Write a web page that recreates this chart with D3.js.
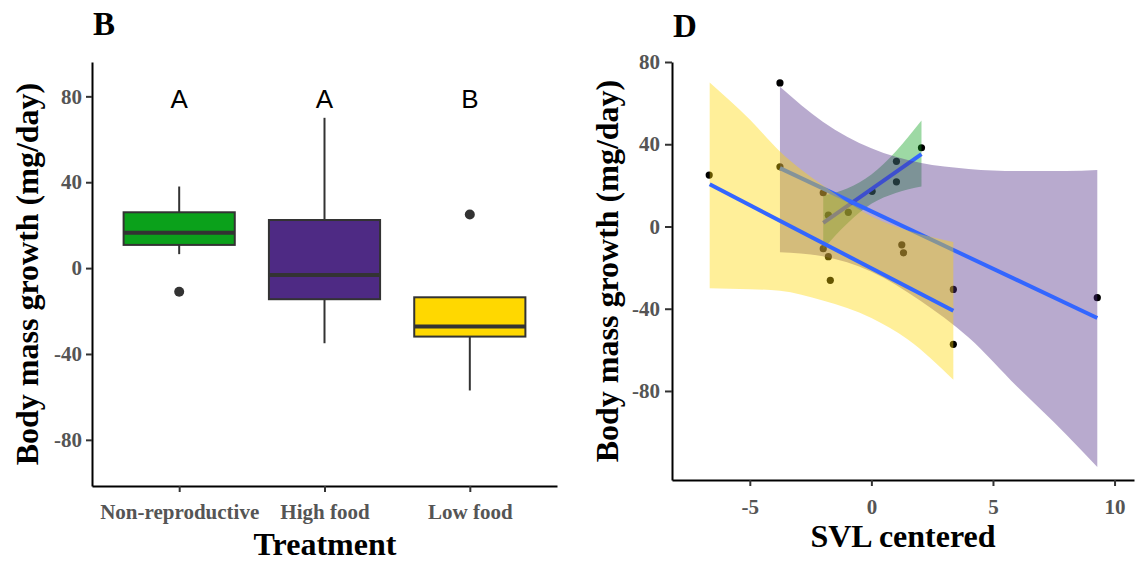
<!DOCTYPE html>
<html lang="en">
  <head>
    <meta charset="UTF-8" />
    <title>Body mass growth</title>
    <script src="https://d3js.org/d3.v7.min.js"></script>
    <style>
      body {
        margin: 0;
        background: #fff;
      }
      svg {
        display: block;
      }
      .tick text {
        font-family: "Liberation Serif", "Times New Roman", serif;
        font-weight: bold;
        fill: #555;
      }
      .tick line {
        stroke: #333;
        stroke-width: 2;
      }
      .domain {
        stroke: #000;
        stroke-width: 2;
      }
      .axis-title {
        font-family: "Liberation Serif", "Times New Roman", serif;
        font-weight: bold;
        fill: #000;
      }
    </style>
  </head>
  <body>
    <svg width="1139" height="567"></svg>
    <script>
      // ---- panel B : boxplots ----
      const treatments = ["Non-reproductive", "High food", "Low food"];
      const whiskerLow = [6.5, -35, -57];
      const boxQ1 = [10.8, -14.5, -31.9];
      const boxMedian = [16.5, -3.2, -27.2];
      const boxQ3 = [26, 22.4, -13.6];
      const whiskerHigh = [38, 70, -13.6];
      const outlierGroup = ["Non-reproductive", "Low food"];
      const outlierValue = [-11, 25];
      const letters = ["A", "A", "B"];
      const letterValue = 79;
      const growthTicks = [-80, -40, 0, 40, 80];

      // ---- panel D : growth vs SVL ----
      const svlX = [-6.67, -3.76, -3.76, -1.98, -1.77, -0.95, -1.98, -1.77, -1.69,
        0.03, 1.03, 1.03, 2.06, 1.25, 1.32, 3.37, 3.37, 9.29];
      const svlY = [25, 69.8, 29, 16.4, 5.5, 6.9, -10.8, -14.7, -26.2,
        17.1, 31.7, 21.7, 38.3, -8.9, -12.8, -30.6, -57.3, -34.6];
      const svlTicks = [-5, 0, 5, 10];

      // fitted bands (drawn in this order)
      const fitGroups = ["Non-reproductive", "High food", "Low food"];
      const bandX = [
        [-1.98, -1, 0, 1, 2.06],
        [-3.76, -2, 0, 2, 4, 6, 8, 9.29],
        [-6.65, -5, -3.76, -2, 0, 1.5, 3.37],
      ];
      const bandUpper = [
        [15, 18.5, 25.3, 36.5, 51.5],
        [68, 51, 38, 31, 28, 27, 27, 27.5],
        [70, 52, 36.5, 20, 5, -2, -7.5],
      ];
      const bandLower = [
        [-11, 1.3, 11, 16.3, 19.5],
        [-12.5, -14.5, -22, -36, -54, -78, -101, -117],
        [-30, -30.5, -31.2, -36, -44.5, -55, -74.5],
      ];
      const fitLineX = [[-1.98, 2.06], [-3.76, 9.29], [-6.65, 3.37]];
      const fitLineY = [[1.8, 35.2], [28.4, -44.5], [20.5, -41]];

      const color = d3.scaleOrdinal()
        .domain(treatments)
        .range(["#0ba11b", "#4e2a84", "#ffd800"]);

      const svg = d3.select("svg");
      const plain = (d) => String(d); // hyphen minus like the original

      // ================= panel B =================
      const xB = d3.scalePoint().domain(treatments).range([92, 557]).padding(0.6);
      const yB = d3.scaleLinear().domain([-101.5, 96]).range([486, 62]);
      const boxW = xB.step() * 0.765;

      const gB = svg.append("g");

      gB.append("g")
        .attr("transform", "translate(92,0)")
        .call(d3.axisLeft(yB).tickValues(growthTicks).tickFormat(plain)
          .tickSize(6).tickPadding(4).tickSizeOuter(0))
        .call((g) => g.selectAll(".tick text").attr("font-size", 21));

      gB.append("g")
        .attr("transform", "translate(0,486)")
        .call(d3.axisBottom(xB).tickSize(6).tickPadding(12).tickSizeOuter(0))
        .call((g) => g.selectAll(".tick text").attr("font-size", 21));

      treatments.forEach((t, i) => {
        const cx = xB(t);
        gB.append("line")
          .attr("x1", cx).attr("x2", cx)
          .attr("y1", yB(whiskerLow[i])).attr("y2", yB(boxQ1[i]))
          .attr("stroke", "#333").attr("stroke-width", 2);
        gB.append("line")
          .attr("x1", cx).attr("x2", cx)
          .attr("y1", yB(boxQ3[i])).attr("y2", yB(whiskerHigh[i]))
          .attr("stroke", "#333").attr("stroke-width", 2);
        gB.append("rect")
          .attr("x", cx - boxW / 2)
          .attr("width", boxW)
          .attr("y", yB(boxQ3[i]))
          .attr("height", yB(boxQ1[i]) - yB(boxQ3[i]))
          .attr("fill", color(t))
          .attr("stroke", "#333")
          .attr("stroke-width", 2);
        gB.append("line")
          .attr("x1", cx - boxW / 2).attr("x2", cx + boxW / 2)
          .attr("y1", yB(boxMedian[i])).attr("y2", yB(boxMedian[i]))
          .attr("stroke", "#333").attr("stroke-width", 4);
        gB.append("text")
          .attr("x", cx)
          .attr("y", yB(letterValue))
          .attr("dy", "0.36em")
          .attr("text-anchor", "middle")
          .attr("font-family", "'Liberation Sans', Arial, sans-serif")
          .attr("font-size", 26)
          .text(letters[i]);
      });

      gB.selectAll(".outlier")
        .data(outlierValue)
        .enter()
        .append("circle")
        .attr("class", "outlier")
        .attr("cx", (d, i) => xB(outlierGroup[i]))
        .attr("cy", (d) => yB(d))
        .attr("r", 5)
        .attr("fill", "#333");

      gB.append("text")
        .attr("class", "axis-title")
        .attr("x", 93).attr("y", 35)
        .attr("font-size", 33)
        .text("B");
      gB.append("text")
        .attr("class", "axis-title")
        .attr("transform", "translate(38,274) rotate(-90)")
        .attr("text-anchor", "middle")
        .attr("font-size", 32)
        .text("Body mass growth (mg/day)");
      gB.append("text")
        .attr("class", "axis-title")
        .attr("x", 325).attr("y", 555)
        .attr("text-anchor", "middle")
        .attr("font-size", 32)
        .text("Treatment");

      // ================= panel D =================
      const xD = d3.scaleLinear().domain([-8.2, 10.8]).range([672, 1134]);
      const yD = d3.scaleLinear().domain([-123.3, 80]).range([480, 62]);

      const gD = svg.append("g");

      gD.append("g")
        .attr("transform", "translate(672,0)")
        .call(d3.axisLeft(yD).tickValues(growthTicks).tickFormat(plain)
          .tickSize(7).tickPadding(5).tickSizeOuter(0))
        .call((g) => g.selectAll(".tick text").attr("font-size", 21));

      gD.append("g")
        .attr("transform", "translate(0,480)")
        .call(d3.axisBottom(xD).tickValues(svlTicks).tickFormat(plain)
          .tickSize(6).tickPadding(13).tickSizeOuter(0))
        .call((g) => g.selectAll(".tick text").attr("font-size", 21));

      // points first, bands drawn over them
      gD.selectAll(".pt")
        .data(svlX)
        .enter()
        .append("circle")
        .attr("class", "pt")
        .attr("cx", (d) => xD(d))
        .attr("cy", (d, i) => yD(svlY[i]))
        .attr("r", 3.6)
        .attr("fill", "#000");

      fitGroups.forEach((grp, k) => {
        const band = bandX[k].map((x, j) => ({ x: x, lo: bandLower[k][j], hi: bandUpper[k][j] }));
        const area = d3.area()
          .x((d) => xD(d.x))
          .y0((d) => yD(d.lo))
          .y1((d) => yD(d.hi))
          .curve(d3.curveMonotoneX);
        gD.append("path")
          .datum(band)
          .attr("d", area)
          .attr("fill", color(grp))
          .attr("fill-opacity", 0.4);

        const fit = fitLineX[k].map((x, j) => [x, fitLineY[k][j]]);
        gD.append("path")
          .datum(fit)
          .attr("d", d3.line().x((d) => xD(d[0])).y((d) => yD(d[1])))
          .attr("fill", "none")
          .attr("stroke", "#3366ff")
          .attr("stroke-width", 4);
      });

      gD.append("text")
        .attr("class", "axis-title")
        .attr("x", 673).attr("y", 37)
        .attr("font-size", 33)
        .text("D");
      gD.append("text")
        .attr("class", "axis-title")
        .attr("transform", "translate(618,271) rotate(-90)")
        .attr("text-anchor", "middle")
        .attr("font-size", 32)
        .text("Body mass growth (mg/day)");
      gD.append("text")
        .attr("class", "axis-title")
        .attr("x", 903).attr("y", 547)
        .attr("text-anchor", "middle")
        .attr("font-size", 32)
        .text("SVL centered");
    </script>
  </body>
</html>
